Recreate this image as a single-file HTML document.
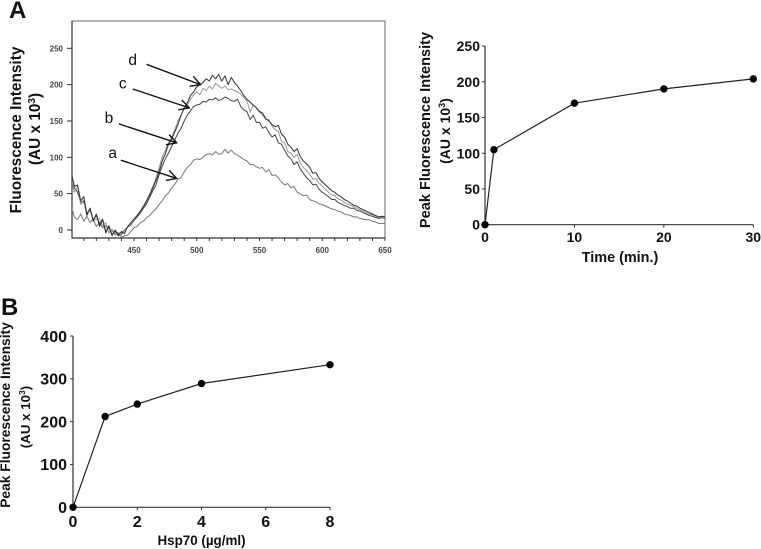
<!DOCTYPE html>
<html>
<head>
<meta charset="utf-8">
<style>
html,body{margin:0;padding:0;background:#fff;width:761px;height:549px;overflow:hidden}
svg{display:block;font-family:"Liberation Sans",sans-serif}
text{fill:#111}
.bold{font-weight:700}
</style>
</head>
<body>
<svg id="fig" width="761" height="549" viewBox="0 0 761 549" xmlns="http://www.w3.org/2000/svg">
  <defs>
    <clipPath id="specClip"><rect x="72" y="21" width="313" height="217"></rect></clipPath>
  </defs>
  <g style="filter:blur(0.35px)">
  <text class="bold" x="9" y="18" font-size="24">A</text>
  <text class="bold" x="1" y="315" font-size="24">B</text>

  <g id="spectrum">
    <rect x="72" y="21" width="313" height="217" fill="none" stroke="#666" stroke-width="1"></rect>
    <line x1="72" y1="238" x2="385" y2="238" stroke="#333" stroke-width="1.2"></line>
    <line x1="72" y1="21" x2="72" y2="238" stroke="#333" stroke-width="1.2"></line>
    <text class="bold" transform="translate(21,130) rotate(-90)" text-anchor="middle" font-size="15.4">Fluorescence Intensity</text>
    <text class="bold" transform="translate(40,129) rotate(-90)" text-anchor="middle" font-size="15.4">(AU x 10<tspan font-size="10" dy="-5">3</tspan><tspan dy="5">)</tspan></text>
  </g>

  <g id="time">
    <text class="bold" transform="translate(430,130) rotate(-90)" text-anchor="middle" font-size="14.6">Peak Fluorescence Intensity</text>
    <text class="bold" transform="translate(450,131) rotate(-90)" text-anchor="middle" font-size="14">(AU x 10<tspan font-size="9" dy="-5">3</tspan><tspan dy="5">)</tspan></text>
    <text class="bold" x="620" y="262" text-anchor="middle" font-size="14.4">Time (min.)</text>
  </g>

  <g id="dose">
    <text class="bold" transform="translate(10,415) rotate(-90)" text-anchor="middle" font-size="13.8">Peak Fluorescence Intensity</text>
    <text class="bold" transform="translate(30,417) rotate(-90)" text-anchor="middle" font-size="13.3">(AU x 10<tspan font-size="8.5" dy="-5">3</tspan><tspan dy="5">)</tspan></text>
    <text class="bold" x="201.5" y="545" text-anchor="middle" font-size="13.4">Hsp70 (µg/ml)</text>
  </g>
  </g>
</svg>
<script>
// ---------- spectrum data ----------
const wavelengths = [400,402.5,405,407.5,410,412.5,415,417.5,420,422.5,425,427.5,430,432.5,435,437.5,440,442.5,445,447.5,450,452.5,455,457.5,460,462.5,465,467.5,470,472.5,475,477.5,480,482.5,485,487.5,490,492.5,495,497.5,500,502.5,505,507.5,510,512.5,515,517.5,520,522.5,525,527.5,530,532.5,535,537.5,540,542.5,545,547.5,550,552.5,555,557.5,560,562.5,565,567.5,570,572.5,575,577.5,580,582.5,585,587.5,590,592.5,595,597.5,600,602.5,605,607.5,610,612.5,615,617.5,620,622.5,625,627.5,630,632.5,635,637.5,640,642.5,645,647.5,650];
const seriesA = [32,18,14,22,12,19,10,15,5,11,3,6,-3,-1,-7,-4,-10,-8,-7,-2,3,5,10,12,17,20,25,29,35,40,47,51,58,63,70,72,80,86,90,96,98,97,100,104,105,103,108,104,105,111,106,110,105,103,100,97,95,90,90,87,85,86,80,83,75,76,72,66,62,64,58,60,52,50,47,48,42,40,39,36,35,33,31,29,28,26,25,22,21,20,18,18,16,15,14,14,12,11,9,9,9];
const seriesB = [76,58,52,38,40,20,30,14,20,8,15,-2,4,-6,-2,-8,-5,0,4,7,13,18,23,30,36,45,54,62,76,88,98,106,115,124,133,140,150,158,164,170,172,173,177,176,180,179,182,178,180,183,181,178,177,180,170,165,163,152,158,148,148,140,142,134,128,131,120,118,110,102,98,90,94,84,78,72,68,62,63,56,52,49,46,42,42,38,36,34,32,30,30,27,26,24,22,20,19,17,16,17,16];
const seriesC = [70,52,60,35,38,24,26,16,14,16,5,10,-4,1,-6,-3,-7,-1,5,8,14,20,25,33,41,50,60,72,86,100,110,120,128,138,150,158,168,172,180,186,190,186,195,192,198,194,202,198,195,198,193,194,192,190,187,182,178,162,172,168,162,158,152,152,143,138,136,122,120,108,106,100,104,92,86,82,77,70,71,64,60,56,52,48,47,43,41,38,36,34,32,30,28,26,24,22,21,19,17,18,17];
const seriesD = [78,60,62,40,46,22,30,12,22,5,14,-4,6,-8,0,-7,-2,-5,5,10,15,20,26,32,40,48,58,68,80,95,105,118,125,135,145,158,168,175,185,190,197,200,203,208,205,213,208,214,205,212,200,210,203,198,192,185,180,176,172,168,163,161,153,150,145,142,144,132,128,118,114,108,112,101,95,91,86,78,79,71,66,62,58,54,52,48,46,42,40,37,34,33,30,28,26,24,22,20,18,19,18];
const spectrumSeries = ['a','b','c','d'];
const spectrumColors = ['#777','#444','#999','#333'];
const spectrumXTicks = [450,500,550,600,650];
const spectrumXMinor = [410,420,430,440,450,460,470,480,490,500,510,520,530,540,550,560,570,580,590,600,610,620,630,640,650];
const spectrumYTicks = [0,50,100,150,200,250];
const arrowLabels = ['a','b','c','d'];
const arrowTailX = [439.5,438,449,460];
const arrowTailY = [96,146,194,228];
const arrowTipX = [484,484,494,503];
const arrowTipY = [71,120,168,200];
const arrowTextX = [433,430,441,449];
const arrowTextY = [99,147,195,227];

// ---------- time course data ----------
const timeCategories = [0,1,10,20,30];
const timeValues = [0,105,170,190,204];
const timeXTicks = [0,10,20,30];
const timeYTicks = [0,50,100,150,200,250];

// ---------- dose response data ----------
const doseCategories = [0,1,2,4,8];
const doseValues = [0,212,241,289,333];
const doseXTicks = [0,2,4,6,8];
const doseYTicks = [0,100,200,300,400];

const NS = 'http://www.w3.org/2000/svg';
function mk(tag, parent, attrs) {
  const e = document.createElementNS(NS, tag);
  for (const k in attrs) e.setAttribute(k, attrs[k]);
  parent.appendChild(e);
  return e;
}
function scale(d0, d1, r0, r1) {
  return v => r0 + (v - d0) * (r1 - r0) / (d1 - d0);
}

// ---------- spectrum ----------
const specG = document.getElementById('spectrum');
const sx = scale(450, 650, 134, 385);
const sy = scale(0, 250, 230, 48.3);
spectrumXMinor.forEach(v => {
  const t = mk('line', specG, {x1: sx(v), x2: sx(v), y1: 238, y2: 241, stroke: '#333', 'stroke-width': 1});
  
  
});
spectrumXTicks.forEach(v => {
  const t = mk('text', specG, {x: sx(v), y: 253, 'text-anchor': 'middle', 'font-size': 8, 'font-weight': 700, style: 'fill:#444'});
  t.textContent = v;
  
  
});
spectrumYTicks.forEach(v => {
  const t = mk('line', specG, {x1: 67, x2: 72, y1: sy(v), y2: sy(v), stroke: '#333', 'stroke-width': 1});
  
  
  const l = mk('text', specG, {x: 63, y: sy(v) + 3, 'text-anchor': 'end', 'font-size': 8, 'font-weight': 700, style: 'fill:#444'});
  l.textContent = v;
  
  
});
[seriesA, seriesB, seriesC, seriesD].forEach((vals, i) => {
  const pts = vals.map((v, j) => sx(wavelengths[j]).toFixed(1) + ',' + sy(v).toFixed(1)).join(' ');
  const p = mk('polyline', specG, {points: pts, fill: 'none', stroke: spectrumColors[i], 'stroke-width': 1, 'clip-path': 'url(#specClip)', 'stroke-linejoin': 'round'});
  
  
});
arrowLabels.forEach((lab, i) => {
  const x1 = sx(arrowTailX[i]), y1 = sy(arrowTailY[i]), x2 = sx(arrowTipX[i]), y2 = sy(arrowTipY[i]);
  const ang = Math.atan2(y2 - y1, x2 - x1);
  const a = mk('line', specG, {x1: x1, y1: y1, x2: x2, y2: y2, stroke: '#111', 'stroke-width': 1.4});
  
  
  const hx1 = x2 - 11 * Math.cos(ang - 0.5), hy1 = y2 - 11 * Math.sin(ang - 0.5);
  const hx2 = x2 - 11 * Math.cos(ang + 0.5), hy2 = y2 - 11 * Math.sin(ang + 0.5);
  const h = mk('polyline', specG, {points: hx1 + ',' + hy1 + ' ' + x2 + ',' + y2 + ' ' + hx2 + ',' + hy2, fill: 'none', stroke: '#111', 'stroke-width': 1.4});
  
  
  const t = mk('text', specG, {x: sx(arrowTextX[i]), y: sy(arrowTextY[i]), 'text-anchor': 'middle', 'font-size': 15.5});
  t.textContent = lab;
  
  
});

// ---------- line charts ----------
function lineChart(prefix, g, cats, vals, xTicks, yTicks, x, y, fs, xLabelY, yLabelX) {
  const xa = mk('line', g, {x1: x(xTicks[0]), x2: x(xTicks[xTicks.length - 1]), y1: y(0), y2: y(0), stroke: '#333', 'stroke-width': 1.2});
  
  
  const ya = mk('line', g, {x1: x(0), x2: x(0), y1: y(0), y2: y(yTicks[yTicks.length - 1]), stroke: '#333', 'stroke-width': 1.2});
  
  
  xTicks.forEach(v => {
    const t = mk('line', g, {x1: x(v), x2: x(v), y1: y(0), y2: y(0) + 3, stroke: '#333', 'stroke-width': 1});
    
    
    const l = mk('text', g, {x: x(v), y: xLabelY, 'text-anchor': 'middle', 'font-size': fs, 'font-weight': 700});
    l.textContent = v;
    
    
  });
  yTicks.forEach(v => {
    const t = mk('line', g, {x1: x(0) - 3, x2: x(0), y1: y(v), y2: y(v), stroke: '#333', 'stroke-width': 1});
    
    
    const l = mk('text', g, {x: yLabelX, y: y(v) + fs * 0.36, 'text-anchor': 'end', 'font-size': fs, 'font-weight': 700});
    l.textContent = v;
    
    
  });
  const pts = vals.map((v, j) => x(cats[j]).toFixed(1) + ',' + y(v).toFixed(1)).join(' ');
  const p = mk('polyline', g, {points: pts, fill: 'none', stroke: '#222', 'stroke-width': 1.2});
  
  
  vals.forEach((v, j) => {
    const c = mk('circle', g, {cx: x(cats[j]), cy: y(v), r: 3.7, fill: '#000'});
    
    
  });
}
lineChart('time', document.getElementById('time'), timeCategories, timeValues, timeXTicks, timeYTicks,
  scale(0, 30, 485, 753.3), scale(0, 250, 224.7, 46), 14, 242, 480);
lineChart('dose', document.getElementById('dose'), doseCategories, doseValues, doseXTicks, doseYTicks,
  scale(0, 8, 73, 330), scale(0, 400, 507.3, 336), 16, 527, 67);
</script>
</body>
</html>
